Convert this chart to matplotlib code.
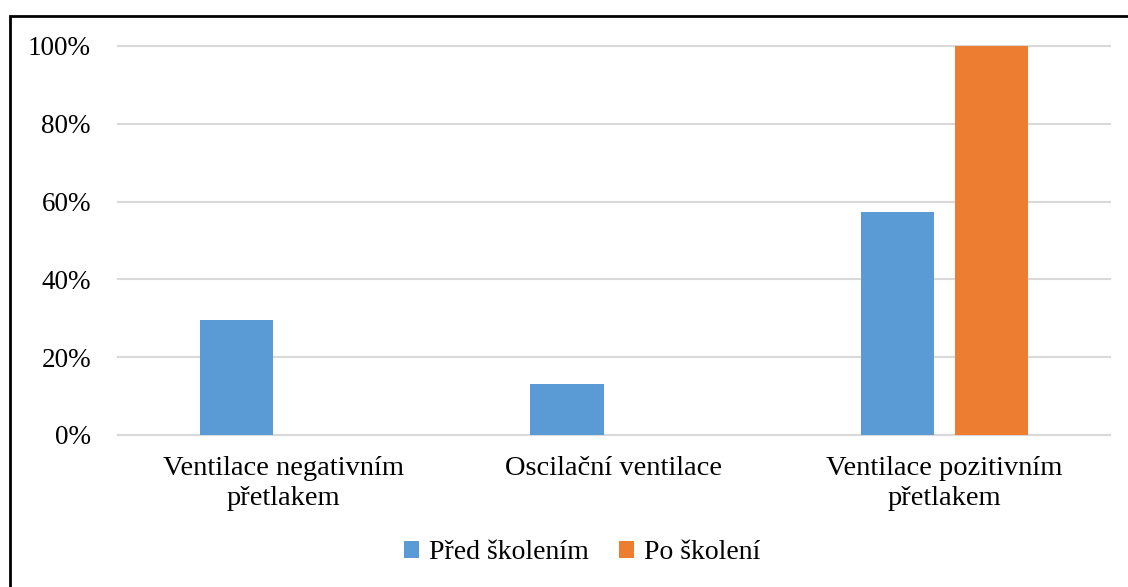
import numpy as np
import matplotlib
matplotlib.use("Agg")
import matplotlib.pyplot as plt
from matplotlib.patches import Rectangle

plt.rcParams['font.family'] = ['Liberation Serif', 'DejaVu Serif']

# data
categories = ['Ventilace negativním\npřetlakem', 'Oscilační ventilace', 'Ventilace pozitivním\npřetlakem']
series_names = ['Před školením', 'Po školení']
pred = [0.296, 0.131, 0.573]
po = [0.0, 0.0, 1.0]
colors = ['#5B9BD5', '#ED7D31']

fig = plt.figure(figsize=(11.28, 5.87), dpi=100)
ax = fig.add_axes([0.1046, 0.259, 0.8794, 0.6627])

x = np.arange(len(categories))
w = 0.221
off = 0.142
ax.bar(x - off, pred, w, color=colors[0], label=series_names[0], zorder=3)
ax.bar(x + off, po, w, color=colors[1], label=series_names[1], zorder=3)

ax.set_xlim(-0.5, 2.5)
ax.set_ylim(0, 1.0)
ticks = np.arange(0, 1.01, 0.2)
ax.set_yticks(ticks)
ax.set_yticklabels([f'{int(round(v * 100))}%' for v in ticks])
ax.set_xticks(x)
ax.set_xticklabels(categories, linespacing=1.25)
ax.tick_params(axis='both', length=0)
ax.tick_params(axis='y', pad=19.5, labelsize=19.5)
ax.tick_params(axis='x', pad=15, labelsize=20.5)
ax.grid(axis='y', color='#D9D9D9', linewidth=1.5, zorder=0)
for g in ax.get_ygridlines():
    g.set_clip_on(False)
for s in ['top', 'right', 'left']:
    ax.spines[s].set_visible(False)
ax.spines['bottom'].set_color('#D9D9D9')
ax.spines['bottom'].set_linewidth(1.5)

leg = fig.legend(loc='center', bbox_to_anchor=(0.516, 0.058), ncol=2, frameon=False,
                 fontsize=20, handlelength=0.55, handleheight=0.55, handletextpad=0.35,
                 columnspacing=1.1)

# outer border (runs off the right and bottom edge)
fig.patches.append(Rectangle((10 / 1128, -0.05), 1.2, 1 - 16 / 587 + 0.05,
                             transform=fig.transFigure, fill=False,
                             edgecolor='black', linewidth=2, zorder=10))

fig.savefig('out.png', dpi=100)
